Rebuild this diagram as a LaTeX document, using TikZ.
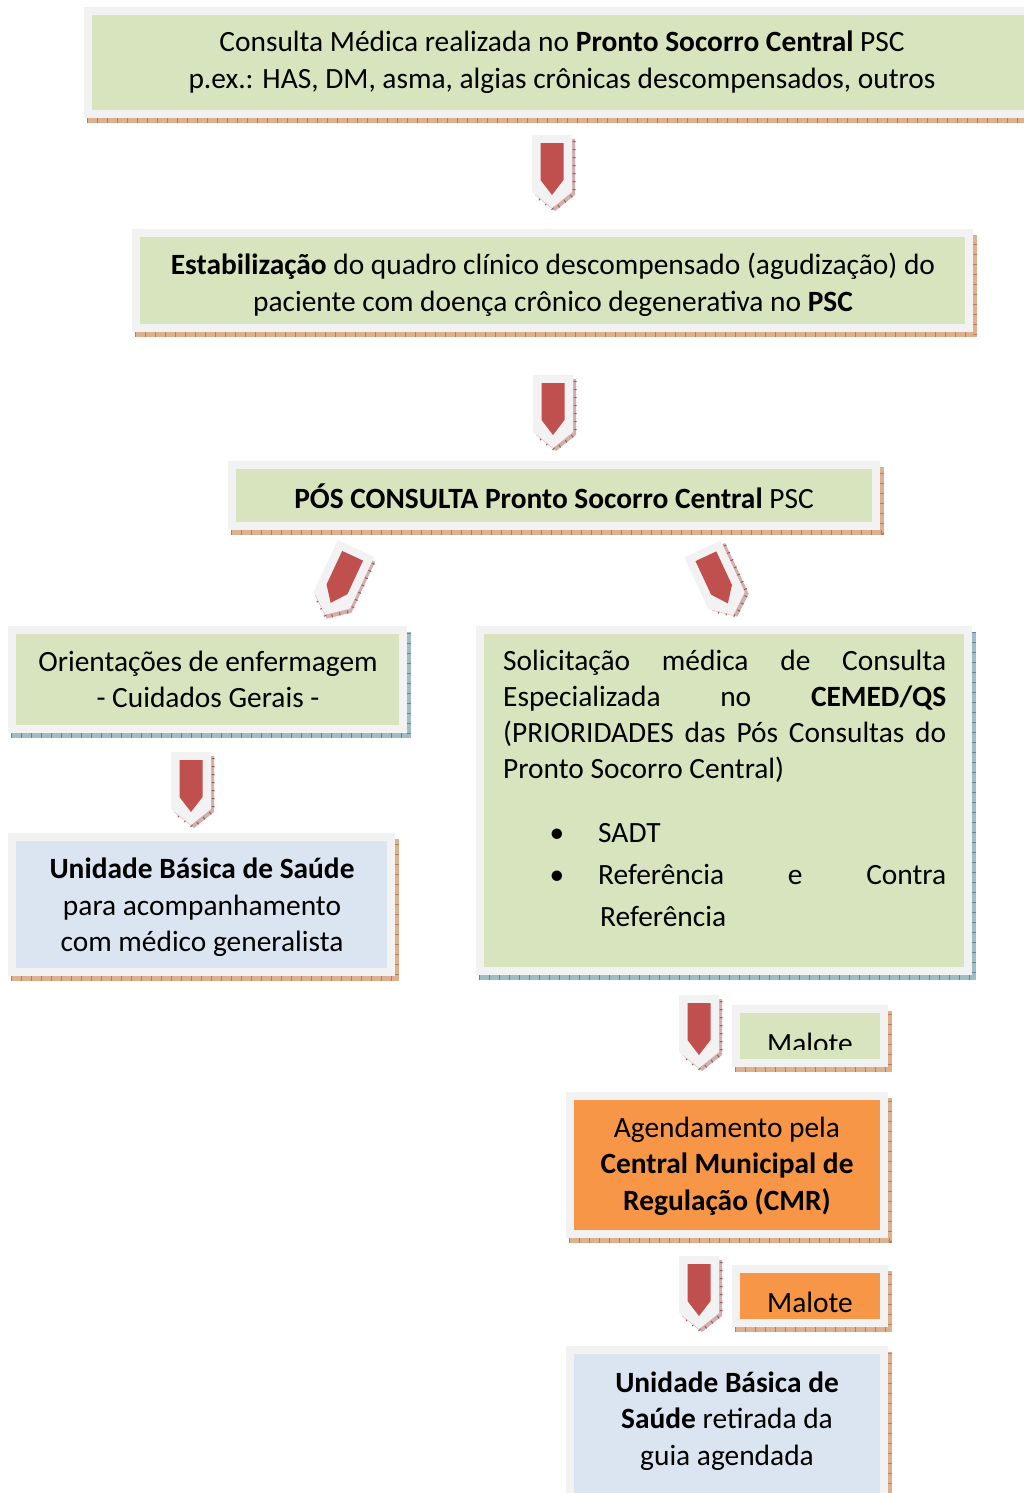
\documentclass[tikz,border=0pt]{standalone}
\usepackage{fontspec}
\setmainfont{Carlito}
\definecolor{frame}{HTML}{F2F2F2}
\definecolor{boxgreen}{HTML}{D7E4BD}
\definecolor{boxblue}{HTML}{DBE5F1}
\definecolor{boxorange}{HTML}{F79646}
\definecolor{arrowred}{HTML}{C0504D}
\definecolor{shbrown}{HTML}{DDB090}
\definecolor{shbrownd}{HTML}{C07C4C}
\definecolor{shblue}{HTML}{A0BCC4}
\definecolor{shblued}{HTML}{5A8A98}
\definecolor{shpink}{HTML}{D4AEAE}
\definecolor{shpinkd}{HTML}{A05858}
\newcommand{\bfont}{\fontsize{29.4}{36.5}\selectfont}
\tikzset{
  box/.style={draw=frame, line width=8pt, inner sep=0pt, outer sep=0pt},
  txt/.style={inner sep=0pt, align=center, font=\bfont},
  ltxt/.style={inner sep=0pt, anchor=base west, font=\bfont},
}
% shadow strip of a box: L T R B light dark
\newcommand{\boxshadow}[6]{%
  \draw[#5, line width=4.5pt] ({#1+3},{#4+2.5}) -- ({#3+2},{#4+2.5}) -- ({#3+2},{#2+6});
  \draw[#6, line width=4.5pt, dash pattern=on 1pt off 9pt] ({#1+3},{#4+2.5}) -- ({#3+2},{#4+2.5}) -- ({#3+2},{#2+6});
}
% pentagon arrow: x y angle
\newcommand{\pentarrow}[3]{%
  \begin{scope}[shift={(#1,#2)},rotate=#3]
    \fill[shpink] (-17,4) -- (23,4) -- (23,60) -- (3,76) -- (-17,60) -- cycle;
    \draw[shpinkd, line width=3pt, dash pattern=on 1pt off 7pt] (22,6) -- (22,59) -- (2,75) -- (-16,61);
    \fill[frame] (-20,0) -- (20,0) -- (20,57) -- (0,73) -- (-20,57) -- cycle;
    \fill[arrowred] (-11.5,8) -- (11.5,8) -- (11.5,45) -- (0,60) -- (-11.5,45) -- cycle;
  \end{scope}
}
\begin{document}
\begin{tikzpicture}[x=1pt,y=-1pt]
\useasboundingbox (0,0) rectangle (1023,1493);
% shadows
\boxshadow{84}{7}{1040}{118}{shbrown}{shbrownd}
\boxshadow{132}{229}{973}{332}{shbrown}{shbrownd}
\boxshadow{228}{461}{880}{530}{shbrown}{shbrownd}
\boxshadow{8}{626}{407}{733}{shblue}{shblued}
\boxshadow{476}{626}{972}{975}{shblue}{shblued}
\boxshadow{8}{833}{395}{976}{shbrown}{shbrownd}
\boxshadow{732}{1005}{888}{1067}{shbrown}{shbrownd}
\boxshadow{566}{1092}{888}{1238}{shbrown}{shbrownd}
\boxshadow{732}{1265}{888}{1327}{shbrown}{shbrownd}
\boxshadow{566}{1346}{888}{1510}{shbrown}{shbrownd}
% boxes
\node[box, fill=boxgreen, minimum width=948pt, minimum height=103pt] (b1) at (562,62.5) {};
\node[box, fill=boxgreen, minimum width=833pt, minimum height=95pt] (b2) at (552.5,280.5) {};
\node[box, fill=boxgreen, minimum width=644pt, minimum height=61pt] (b3) at (554,495.5) {};
\node[box, fill=boxgreen, minimum width=391pt, minimum height=99pt] (b4) at (207.5,679.5) {};
\node[box, fill=boxgreen, minimum width=488pt, minimum height=341pt] (b5) at (724,800.5) {};
\node[box, fill=boxblue, minimum width=379pt, minimum height=135pt] (b6) at (201.5,904.5) {};
\node[box, fill=boxgreen, minimum width=148pt, minimum height=54pt] (b7) at (810,1036) {};
\node[box, fill=boxorange, minimum width=314pt, minimum height=138pt] (b8) at (727,1165) {};
\node[box, fill=boxorange, minimum width=148pt, minimum height=54pt] (b9) at (810,1296) {};
\node[box, fill=boxblue, minimum width=314pt, minimum height=156pt] (b10) at (727,1428) {};
% arrows
\pentarrow{552}{135}{0}
\pentarrow{553}{375}{0}
\pentarrow{356}{548.5}{-25}
\pentarrow{702.5}{549}{25}
\pentarrow{191}{752}{0}
\pentarrow{699}{995}{0}
\pentarrow{699}{1256}{0}
% texts
\node[txt] (t1) at (562,62) {Consulta Médica realizada no \textbf{Pronto Socorro Central} PSC\\p.ex.: HAS, DM, asma, algias crônicas descompensados, outros};
\node[txt] (t2) at (553,285) {\textbf{Estabilização} do quadro clínico descompensado (agudização) do\\paciente com doença crônico degenerativa no \textbf{PSC}};
\node[txt] (t3) at (554,496) {\textbf{PÓS CONSULTA Pronto Socorro Central} PSC};
\node[txt] (t4) at (208,679.5) {Orientações de enfermagem\\- Cuidados Gerais -};
\node[ltxt] (t5a) at (503,670) {\hbox to 443pt{Solicitação\hfill médica\hfill de\hfill Consulta}};
\node[ltxt] (t5b) at (503,706) {\hbox to 443pt{Especializada\hfill no\hfill \textbf{CEMED/QS}}};
\node[ltxt] (t5c) at (503,742) {\hbox to 443pt{(PRIORIDADES\hfill das\hfill Pós\hfill Consultas\hfill do}};
\node[ltxt] (t5d) at (503,778) {Pronto Socorro Central)};
\node[inner sep=0pt, anchor=base, font=\bfont] (u1) at (557,842) {•};
\node[ltxt] (t5e) at (598,842) {SADT};
\node[inner sep=0pt, anchor=base, font=\bfont] (u2) at (557,884) {•};
\node[ltxt] (t5f) at (598,884) {\hbox to 348pt{Referência\hfill e\hfill Contra}};
\node[ltxt] (t5g) at (600,926) {Referência};
\node[txt] (t6) at (202,907.5) {\textbf{Unidade Básica de Saúde}\\para acompanhamento\\com médico generalista};
\begin{scope}
\clip (740,1013) rectangle (880,1049.5);
\node[txt] (t7) at (810,1043) {Malote};
\end{scope}
\node[txt] (t8) at (727,1166) {Agendamento pela\\\textbf{Central Municipal de}\\\textbf{Regulação (CMR)}};
\node[txt] (t9) at (810,1302) {Malote};
\node[txt] (t10) at (727,1421) {\textbf{Unidade Básica de}\\\textbf{Saúde} retirada da\\guia agendada};
\end{tikzpicture}
\end{document}
